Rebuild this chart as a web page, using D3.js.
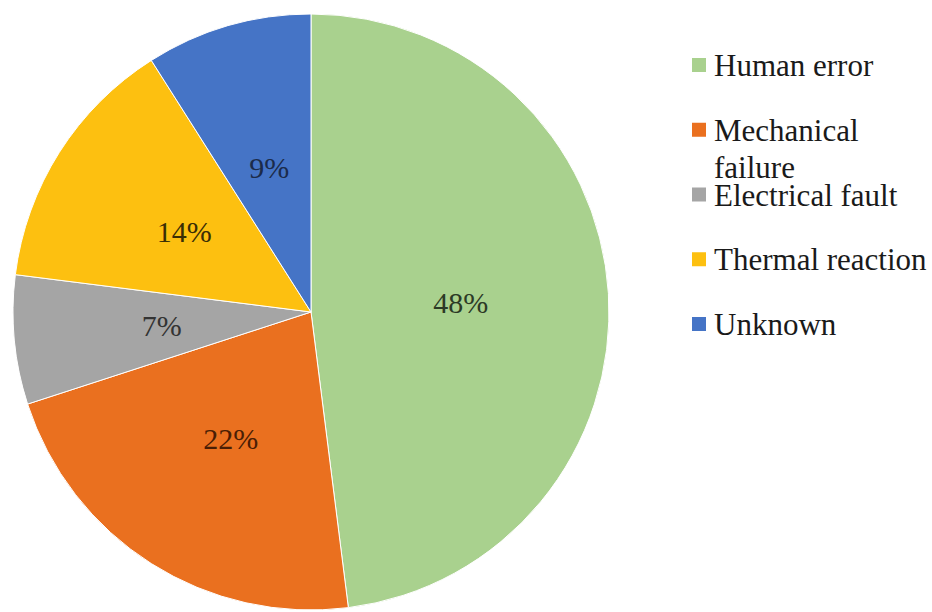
<!DOCTYPE html>
<html>
<head>
<meta charset="utf-8">
<script src="https://cdn.jsdelivr.net/npm/d3@7"></script>
</head>
<body style="margin:0">
<svg id="chart" width="932" height="612" font-family="Times New Roman"></svg>
<script>
const categories = ['Human error', 'Mechanical failure', 'Electrical fault', 'Thermal reaction', 'Unknown'];
const shares = [48, 22, 7, 14, 9];
const sliceColors = ['#a9d18e', '#ea701f', '#a5a5a5', '#fdc010', '#4574c6'];
const labelColors = ['#2c3a26', '#4a1e05', '#333333', '#3a2e05', '#1b2b4a'];

const cx = 311;
const cy = 312;
const radius = 298;

const svg = d3.select('#chart');

const pie = d3.pie().sort(null).value(d => d.value);
const arcs = pie(categories.map((name, i) => ({ name, value: shares[i], i })));

const arc = d3.arc().innerRadius(0).outerRadius(radius);
const labelArc = d3.arc().innerRadius(150).outerRadius(150);

svg.append('g')
  .attr('transform', `translate(${cx},${cy})`)
  .selectAll('path')
  .data(arcs)
  .enter()
  .append('path')
  .attr('d', arc)
  .attr('fill', d => sliceColors[d.data.i])
  .attr('stroke', '#fff')
  .attr('stroke-width', 1);

// percentage labels, appended straight to the svg
svg.selectAll('text.pct')
  .data(arcs)
  .enter()
  .append('text')
  .attr('class', 'pct')
  .attr('x', d => cx + labelArc.centroid(d)[0])
  .attr('y', d => cy + labelArc.centroid(d)[1] + 10)
  .attr('text-anchor', 'middle')
  .attr('font-size', 30)
  .style('font-family', () => '"Times New Roman", "Liberation Serif"')
  .attr('fill', d => labelColors[d.data.i])
  .text(d => `${d.data.value}%`);

// legend, one row per category; long names wrap onto a second line
const legendY = d3.scalePoint().domain(categories).range([76, 335]);

svg.selectAll('rect.key')
  .data(categories)
  .enter()
  .append('rect')
  .attr('class', 'key')
  .attr('x', 692)
  .attr('y', d => legendY(d) - 18)
  .attr('width', 14)
  .attr('height', 14)
  .attr('fill', (d, i) => sliceColors[i]);

const legendLines = [];
categories.forEach(d => {
  const words = d === 'Mechanical failure' ? ['Mechanical', 'failure'] : [d];
  words.forEach((w, k) => legendLines.push({ text: w, y: legendY(d) + k * 37 }));
});

svg.selectAll('text.key')
  .data(legendLines)
  .enter()
  .append('text')
  .attr('class', 'key')
  .attr('x', 714)
  .attr('y', d => d.y)
  .attr('font-size', 31)
  .style('font-family', () => '"Times New Roman", "Liberation Serif"')
  .attr('fill', '#1a1a1a')
  .text(d => d.text);
</script>
</body>
</html>
